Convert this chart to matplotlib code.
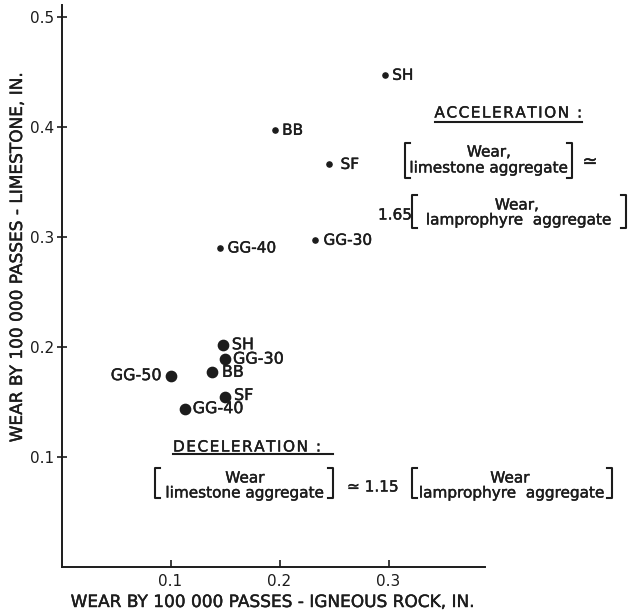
import matplotlib
matplotlib.use('Agg')
import matplotlib.pyplot as plt
import matplotlib.patheffects as pe
from matplotlib.lines import Line2D

plt.rcParams['font.family'] = ['DejaVu Sans']

W, H = 629, 615
ink = '#1c1c1c'
thick = [pe.withStroke(linewidth=0.3, foreground=ink)]

# acceleration (small dots)
acc_labels = ['SH', 'BB', 'SF', 'GG-40', 'GG-30']
acc_x = [0.297, 0.196, 0.245, 0.145, 0.233]
acc_y = [0.447, 0.397, 0.366, 0.290, 0.297]

# deceleration (large dots)
dec_labels = ['SH', 'GG-30', 'BB', 'GG-50', 'SF', 'GG-40']
dec_x = [0.148, 0.150, 0.138, 0.100, 0.150, 0.113]
dec_y = [0.202, 0.189, 0.177, 0.174, 0.155, 0.144]

x_ticks = [0.1, 0.2, 0.3]
y_ticks = [0.1, 0.2, 0.3, 0.4, 0.5]

fig = plt.figure(figsize=(W / 100, H / 100), dpi=100)
ax = fig.add_axes([61.5 / W, 48 / H, (485 - 61.5) / W, (567 - 5) / H])


def fx(px):
    return px / W


def fy(py):
    return 1 - py / H


def spaced(s):
    return '\u200a'.join(s)


def ftext(px, py, s, **kw):
    kw.setdefault('color', ink)
    kw.setdefault('fontsize', 11)
    kw.setdefault('ha', 'center')
    kw.setdefault('va', 'center')
    fig.text(fx(px), fy(py), s, path_effects=thick, **kw)


def fline(xs, ys, lw=1.5):
    fig.add_artist(Line2D([fx(v) for v in xs], [fy(v) for v in ys],
                          color=ink, lw=lw, transform=fig.transFigure))


def bracket(x0, x1, y0, y1):
    s = 5
    fline([x0 + s, x0, x0, x0 + s], [y0, y0, y1, y1])
    fline([x1 - s, x1, x1, x1 - s], [y0, y0, y1, y1])


ax.scatter(acc_x, acc_y, s=14, color=ink, zorder=3)
ax.scatter(dec_x, dec_y, s=55, color=ink, zorder=3)

acc_off = [(7, 0), (7, 0), (12, 0), (8, 0), (8, 0)]
for lab, x, y, off in zip(acc_labels, acc_x, acc_y, acc_off):
    ax.annotate(lab, (x, y), xytext=off, textcoords='offset pixels',
                ha='left', va='center', fontsize=11, color=ink,
                path_effects=thick)

dec_off = [(9, 0), (8, 0), (10, 0), (-9, 0), (9, 1), (8, 0)]
for lab, x, y, off in zip(dec_labels, dec_x, dec_y, dec_off):
    ax.annotate(lab, (x, y), xytext=off, textcoords='offset pixels',
                ha='right' if off[0] < 0 else 'left', va='center',
                fontsize=11.5, color=ink, path_effects=thick)

ax.set_xlim(0, (485 - 61.5) / 1090)
ax.set_ylim(0, 0.5 + 12 / 1100)
ax.set_xticks(x_ticks)
ax.set_yticks(y_ticks)
ax.set_xticklabels([str(v) for v in x_ticks])
ax.set_yticklabels([str(v) for v in y_ticks])
ax.tick_params(axis='x', direction='in', length=5, width=1.2, pad=5,
               labelsize=11, colors=ink)
ax.tick_params(axis='y', direction='inout', length=7, width=1.2, pad=2,
               labelsize=11, colors=ink)
for side in ['top', 'right']:
    ax.spines[side].set_visible(False)
for side in ['left', 'bottom']:
    ax.spines[side].set_linewidth(1.4)
    ax.spines[side].set_color(ink)

ftext(272, 602, 'WEAR BY 100 000 PASSES - IGNEOUS ROCK, IN.', fontsize=12.2)
ftext(17, 258, 'WEAR BY 100 000 PASSES - LIMESTONE, IN.', fontsize=12.2,
      rotation=90)

# acceleration note
ftext(508, 113, spaced('ACCELERATION :'), fontsize=11)
fline([435, 582], [122, 122])
bracket(405, 572, 143, 178)
ftext(489, 152, 'Wear,')
ftext(489, 168, 'limestone aggregate')
ftext(590, 162, '≃', fontsize=13)
ftext(378, 215, '1.65', ha='left')
bracket(412, 626, 195, 228)
ftext(517, 205, 'Wear,')
ftext(519, 220, 'lamprophyre  aggregate')

# deceleration note
ftext(173, 447, spaced('DECELERATION :'), fontsize=11, ha='left')
fline([173, 333], [454, 454])
bracket(155, 333, 468, 498)
ftext(245, 478, 'Wear')
ftext(245, 493, 'limestone aggregate')
ftext(347, 487, '≃ 1.15', ha='left')
bracket(412, 612, 468, 498)
ftext(510, 478, 'Wear')
ftext(512, 493, 'lamprophyre  aggregate')

plt.savefig('out.png', dpi=100)
plt.close()
